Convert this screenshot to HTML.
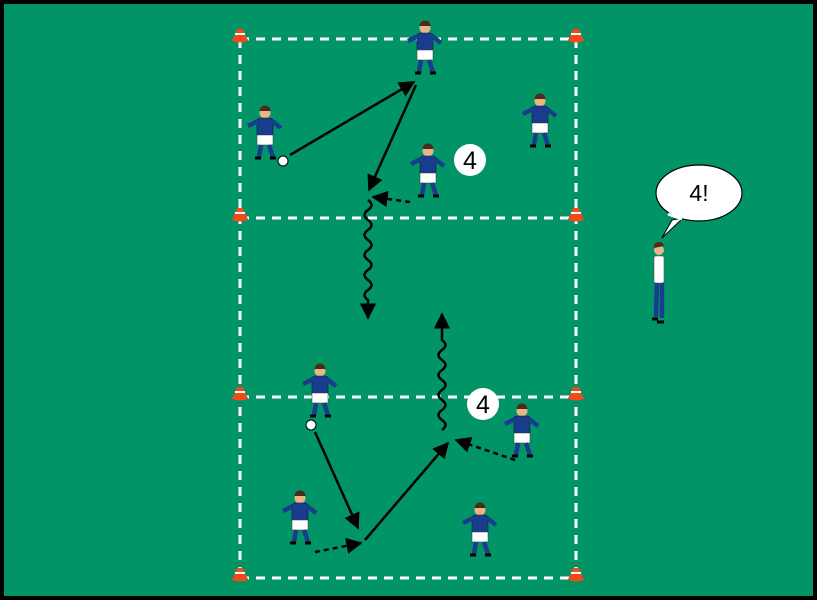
<!DOCTYPE html>
<html><head><style>html,body{margin:0;padding:0;background:#000}svg{display:block}</style></head>
<body>
<svg width="817" height="600" viewBox="0 0 817 600" xmlns="http://www.w3.org/2000/svg" font-family="Liberation Sans, sans-serif">
<defs>
<marker id="ah" viewBox="0 0 10 10" refX="9" refY="5" markerWidth="6.5" markerHeight="6.5" orient="auto"><path d="M0,0L10,5L0,10z" fill="#000"/></marker>
<g id="pl">
<circle cx="0" cy="-27" r="5.5" fill="#e8b48a"/>
<path d="M-5.5,-29 a5.5,5.5 0 0 1 11,0 z" fill="#4a2a18"/>
<rect x="-8" y="-22" width="16" height="19" rx="3" fill="#1a3c8c" stroke="#0a1a40" stroke-width="0.6"/>
<path d="M-7,-19 L-17,-14 M7,-19 L16,-12" stroke="#1a3c8c" stroke-width="4.5"/>
<rect x="-8" y="-5" width="16" height="10" fill="#fff" stroke="#333" stroke-width="0.5"/>
<path d="M-4,5 L-6,17 M4,5 L8,17" stroke="#1a3c8c" stroke-width="4.5"/>
<path d="M-10,18 h6 M5,18 h6" stroke="#000" stroke-width="3"/>
</g>
<g id="cone"><path d="M-3,-8 L3,-8 L7,2 L-7,2 z" fill="#f04a1a"/><path d="M-5,-3 h10" stroke="#fff" stroke-width="2"/><ellipse cx="0" cy="3" rx="8" ry="2.5" fill="#f04a1a"/></g>
</defs>
<rect x="0" y="0" width="817" height="600" fill="#000"/>
<rect x="4" y="4" width="809" height="592" fill="#009467"/>
<g stroke="#fff" stroke-width="3" stroke-dasharray="9,7" fill="none">
<path d="M240,39H576M240,218H576M240,397H576M240,578H576M240,39V578M576,39V578"/>
</g>
<g>
<use href="#cone" x="240" y="37"/><use href="#cone" x="576" y="37"/>
<use href="#cone" x="240" y="216"/><use href="#cone" x="576" y="216"/>
<use href="#cone" x="240" y="395"/><use href="#cone" x="576" y="395"/>
<use href="#cone" x="240" y="576"/><use href="#cone" x="576" y="576"/>
</g>
<g stroke="#000" stroke-width="2.5" fill="none">
<path d="M290,155L414,82" marker-end="url(#ah)"/>
<path d="M416,85L369,190" marker-end="url(#ah)"/>
<path d="M410,202L373,197" stroke-dasharray="5,4" marker-end="url(#ah)"/>
<path d="M368,200 q7,5 0,10 q-7,5 0,10 q7,5 0,10 q-7,5 0,10 q7,5 0,10 q-7,5 0,10 q7,5 0,10 q-7,5 0,10 q7,5 0,10 q-7,5 0,10 L368,318" marker-end="url(#ah)"/>
<path d="M442,430 q7,-5 0,-10 q-7,-5 0,-10 q7,-5 0,-10 q-7,-5 0,-10 q7,-5 0,-10 q-7,-5 0,-10 q7,-5 0,-10 q-7,-5 0,-10 q7,-5 0,-10 L442,314" marker-end="url(#ah)"/>
<path d="M315,432L358,528" marker-end="url(#ah)"/>
<path d="M365,540L448,443" marker-end="url(#ah)"/>
<path d="M515,460L456,440" stroke-dasharray="5,4" marker-end="url(#ah)"/>
<path d="M315,552L361,543" stroke-dasharray="5,4" marker-end="url(#ah)"/>
</g>
<use href="#pl" x="425" y="55"/>
<use href="#pl" x="265" y="140"/>
<use href="#pl" x="540" y="128"/>
<use href="#pl" x="428" y="178"/>
<use href="#pl" x="320" y="398"/>
<use href="#pl" x="522" y="438"/>
<use href="#pl" x="300" y="525"/>
<use href="#pl" x="480" y="537"/>
<circle cx="283" cy="161" r="5" fill="#fff" stroke="#000"/>
<circle cx="311" cy="425" r="5" fill="#fff" stroke="#000"/>
<circle cx="470" cy="160" r="16" fill="#fff"/>
<text x="470" y="169" font-size="25" text-anchor="middle">4</text>
<circle cx="483" cy="404" r="16" fill="#fff"/>
<text x="483" y="413" font-size="25" text-anchor="middle">4</text>
<path d="M672,220 L662,238 L683,218 z" fill="#fff" stroke="#000"/>
<ellipse cx="699" cy="193" rx="43" ry="28" fill="#fff" stroke="#000" stroke-width="1.2"/>
<path d="M668,214 L682,219" stroke="#fff" stroke-width="3"/>
<text x="699" y="201" font-size="23" text-anchor="middle">4!</text>
<g>
<circle cx="659" cy="250" r="5" fill="#e8b48a"/>
<path d="M654,248 a5,5 0 0 1 10,-2 z" fill="#4a2a18"/>
<rect x="654" y="256" width="10" height="27" rx="2" fill="#fff" stroke="#555" stroke-width="0.6"/>
<path d="M657,283 L656,317 M662,283 L662,318" stroke="#1a3c8c" stroke-width="4.5"/>
<path d="M652,319h6M657,322h7" stroke="#000" stroke-width="3"/>
</g>
</svg>
</body></html>
